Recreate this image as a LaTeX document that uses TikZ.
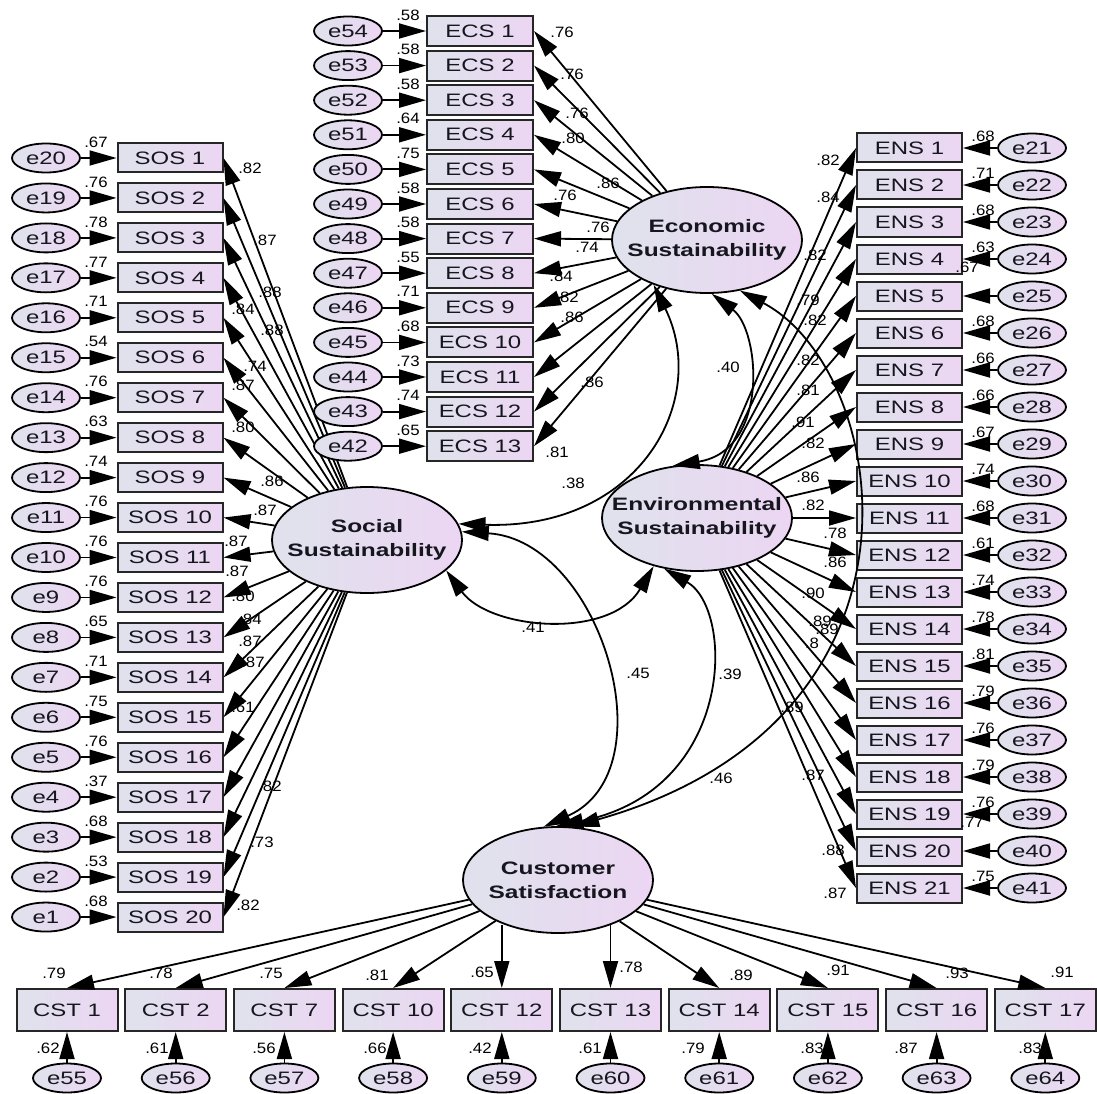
\documentclass[tikz,border=0pt]{standalone}
\usepackage{fontspec}
\setmainfont{Liberation Sans}[FakeStretch=1.33, BoldFont={Liberation Sans Bold}, BoldFeatures={FakeStretch=1.36}]
\newfontfamily\labfam{Liberation Sans}[FakeStretch=1.12]
\usetikzlibrary{arrows.meta,shapes.geometric}
\definecolor{fillL}{HTML}{DFE2EC}
\definecolor{fillR}{HTML}{ECD6F3}
\definecolor{edgec}{HTML}{262626}
\definecolor{txtc}{HTML}{16161F}
\newcommand\obsfont{\fontsize{18}{20}\selectfont\color{txtc}}
\newcommand\latfont{\fontsize{18}{24}\selectfont\bfseries\color{txtc}}
\newcommand\labfont{\labfam\fontsize{15}{17}\selectfont}
\tikzset{
  obs/.style={rectangle, draw=edgec, line width=2pt, left color=fillL, right color=fillR,
    minimum width=105pt, minimum height=29pt, inner sep=0pt, font=\obsfont},
  err/.style={ellipse, draw=black, line width=1.8pt, left color=fillL, right color=fillR,
    minimum width=68pt, minimum height=29pt, inner sep=0pt, font=\obsfont},
  lat/.style={ellipse, draw=black, line width=1.8pt, left color=fillL, right color=fillR,
    minimum width=190pt, minimum height=106pt, inner sep=0pt},
  lattxt/.style={align=center, font=\latfont, inner sep=0pt},
  ld/.style={-{Triangle[length=27pt,width=15pt]}, line width=1.8pt},
  cov/.style={{Triangle[length=27pt,width=15pt]}-{Triangle[length=27pt,width=15pt]}, line width=1.8pt},
  lab/.style={font=\labfont, inner sep=0pt}
}
\begin{document}
\begin{tikzpicture}[x=1pt,y=-1pt]
\useasboundingbox (0,0) rectangle (1097,1094);
\fill[white] (0,0) rectangle (1097,1094);

% latent variables
\node[lat, label={[lattxt]center:Economic\\Sustainability}] (eco) at (707,240) {};
\node[lat, label={[lattxt]center:Social\\Sustainability}] (soc) at (367,540) {};
\node[lat, label={[lattxt]center:Environmental\\Sustainability}] (env) at (697,518) {};
\node[lat, label={[lattxt]center:Customer\\Satisfaction}] (cs) at (558,880) {};

% Social sustainability indicators
\foreach \k in {1,...,20}{
  \pgfmathsetmacro\yy{158+39.95*(\k-1)}
  \pgfmathtruncatemacro\ee{21-\k}
  \node[obs] (sos\k) at (170,\yy) {SOS \k};
  \node[err] (e\ee) at (46,\yy) {e\ee};
  \draw[ld] (e\ee) -- (sos\k);
  \draw[ld] (soc) -- (sos\k.east);
}
% Economic sustainability indicators
\foreach \k in {1,...,13}{
  \pgfmathsetmacro\yy{31+34.6*(\k-1)}
  \pgfmathtruncatemacro\ee{55-\k}
  \node[obs, minimum width=106pt, minimum height=30pt] (ecs\k) at (480,\yy) {ECS \k};
  \node[err] (e\ee) at (348,\yy) {e\ee};
  \draw[ld] (e\ee) -- (ecs\k);
  \draw[ld] (eco) -- (ecs\k.east);
}
% Environmental sustainability indicators
\foreach \k in {1,...,21}{
  \pgfmathsetmacro\yy{148+37*(\k-1)}
  \pgfmathtruncatemacro\ee{20+\k}
  \node[obs] (ens\k) at (909.5,\yy) {ENS \k};
  \node[err] (e\ee) at (1032,\yy) {e\ee};
  \draw[ld] (e\ee) -- (ens\k);
  \draw[ld] (env) -- (ens\k.west);
}
% Customer satisfaction indicators
\foreach \i/\n in {0/1,1/2,2/7,3/10,4/12,5/13,6/14,7/15,8/16,9/17}{
  \pgfmathsetmacro\xx{67+108.7*\i}
  \pgfmathtruncatemacro\ee{55+\i}
  \node[obs, minimum width=101pt, minimum height=42pt] (cst\n) at (\xx,1010) {CST \n};
  \node[err] (e\ee) at (\xx,1078) {e\ee};
  \draw[ld] (e\ee) -- (cst\n);
}
\foreach \n in {1,2,7,10,14,15,16,17}{
  \draw[ld] (cs) -- (cst\n.north);
}
\draw[ld] (cst12.north |- cs.220) -- (cst12.north);
\draw[ld] (cst13.north |- cs.321) -- (cst13.north);

% covariances
\draw[cov] (eco.220) .. controls (710,400) and (640,530) .. (soc.10);
\draw[cov] (eco.275) .. controls (760,330) and (770,450) .. (env.115);
\draw[cov] (eco.303) .. controls (890,370) and (950,720) .. (cs.75);
\draw[cov] (soc.339) .. controls (490,630) and (610,640) .. (env.228);
\draw[cov] (soc.5) .. controls (600,540) and (670,770) .. (cs.105);
\draw[cov] (env.237) .. controls (735,610) and (735,790) .. (cs.92);

\node[lab] at (573,483) {.38};
\node[lab] at (728,367) {.40};
\node[lab] at (533,627) {.41};
\node[lab] at (638,673) {.45};
\node[lab] at (730,674) {.39};
\node[lab] at (721,778) {.46};

% SOS labels
\foreach \k/\v in {1/.67,2/.76,3/.78,4/.77,5/.71,6/.54,7/.76,8/.63,9/.74,10/.76,11/.76,12/.76,13/.65,14/.71,15/.75,16/.76,17/.37,18/.68,19/.53,20/.68}{
  \node[lab] at (96,{158+39.95*(\k-1)-16}) {\v};
}
\foreach \x/\y/\t in {250/168/.82, 265/240/.87, 270/292/.88, 243/309/.84, 272/330/.88, 255/366/.74, 243/385/.87, 243/427/.80, 272/481/.86, 265/510/.87, 236/541/.87, 237/571/.87, 243/596/.80, 250/619/.84, 250/641/.87, 253/662/.87, 243/707/.61, 270/786/.82, 262/842/.73, 248/905/.82}{
  \node[lab] at (\x,\y) {\t};
}
% ECS labels
\foreach \k/\v in {1/.58,2/.58,3/.58,4/.64,5/.75,6/.58,7/.58,8/.55,9/.71,10/.68,11/.73,12/.74,13/.65}{
  \node[lab] at (408,{31+34.6*(\k-1)-16}) {\v};
}
\foreach \x/\y/\t in {562/32/.76, 572/74/.76, 577/113/.76, 573/138/.80, 608/183/.86, 565/195/.76, 598/227/.76, 587/247/.74, 561/276/.84, 567/297/.82, 572/317/.86, 592/382/.86, 557/452/.81}{
  \node[lab] at (\x,\y) {\t};
}
% ENS labels
\foreach \k/\v in {1/.68,2/.71,3/.68,4/.63,6/.68,7/.66,8/.66,9/.67,10/.74,11/.68,12/.61,13/.74,14/.78,15/.81,16/.79,17/.76,18/.79,19/.76,21/.75}{
  \node[lab] at (983,{148+37*(\k-1)-12}) {\v};
}
\node[lab] at (967,267) {.67};
\node[lab] at (972,822) {.77};
\foreach \x/\y/\t in {828/160/.82, 828/197/.84, 815/255/.82, 808/300/.79, 815/320/.82, 808/360/.82, 808/390/.81, 803/422/.91, 813/443/.82, 808/477/.86, 813/505/.82, 835/533/.78, 835/562/.86, 813/593/.90, 820/621/.89, 827/629/.89, 812/643/.8, 792/707/.89, 813/775/.87, 833/850/.88, 835/893/.87}{
  \node[lab] at (\x,\y) {\t};
}
% CST labels
\foreach \x/\y/\t in {54/973/.79, 161/973/.78, 271/973/.75, 377/975/.81, 482/972/.65, 631/967/.78, 741/975/.89, 838/970/.91, 957/973/.93, 1062/972/.91,
  48/1048/.62, 157/1048/.61, 264/1048/.56, 375/1048/.66, 480/1048/.42, 590/1048/.61, 693/1048/.79, 812/1048/.83, 906/1048/.87, 1030/1048/.83}{
  \node[lab] at (\x,\y) {\t};
}
\end{tikzpicture}
\end{document}
